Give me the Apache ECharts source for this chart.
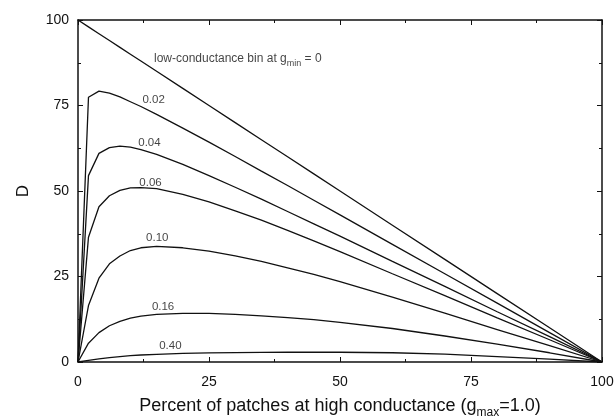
<!DOCTYPE html>
<html>
<head>
<meta charset="utf-8">
<script src="https://cdn.jsdelivr.net/npm/echarts@6/dist/echarts.min.js"></script>
<style>
  html, body { margin: 0; padding: 0; background: #fff; }
  #chart { width: 615px; height: 416px; }
</style>
</head>
<body>
<div id="chart"></div>
<script>
// Percent of patches at high conductance (x positions shared by every curve)
var pct = [0, 2, 4, 6, 8, 10, 12, 15, 20, 25, 30, 35, 40, 45, 50, 60, 70, 80, 90, 100];

// D for each low-conductance bin value g_min
var gmin = ['0', '0.02', '0.04', '0.06', '0.10', '0.16', '0.40'];
var d000 = [100, 98, 96, 94, 92, 90, 88, 85, 80, 75, 70, 65, 60, 55, 50, 40, 30, 20, 10, 0];
var d002 = [0, 77.4, 79.2, 78.6, 77.5, 76.1, 74.7, 72.4, 68.4, 64.3, 60.1, 55.8, 51.6, 47.3, 43.0, 34.4, 25.8, 17.2, 8.6, 0];
var d004 = [0, 54.5, 61.0, 62.7, 63.1, 62.8, 62.1, 60.7, 57.8, 54.5, 51.1, 47.6, 44.0, 40.4, 36.8, 29.4, 22.1, 14.7, 7.4, 0];
var d006 = [0, 36.5, 45.4, 48.6, 50.2, 50.9, 51.0, 50.7, 49.0, 46.8, 44.2, 41.5, 38.5, 35.4, 32.3, 25.8, 19.4, 12.9, 6.5, 0];
var d010 = [0, 16.5, 24.5, 28.7, 31.0, 32.6, 33.4, 33.8, 33.4, 32.4, 31.0, 29.4, 27.5, 25.6, 23.5, 19.0, 14.3, 9.5, 4.8, 0];
var d016 = [0, 5.5, 8.6, 10.6, 11.9, 12.8, 13.4, 13.9, 14.2, 14.2, 13.9, 13.5, 13.0, 12.4, 11.6, 9.8, 7.6, 5.2, 2.7, 0];
var d040 = [0, 0.5, 0.9, 1.3, 1.6, 1.85, 2.05, 2.25, 2.5, 2.65, 2.75, 2.8, 2.85, 2.85, 2.85, 2.7, 2.3, 1.6, 0.85, 0];
var curves = [d000, d002, d004, d006, d010, d016, d040];

// Curve captions (text and the data point where each caption starts)
var captions = [
  '{t|low-conductance bin at g}{s|min}{t| = 0}',
  '0.02', '0.04', '0.06', '0.10', '0.16', '0.40'
];
var captionAt = [[14.5, 88.0], [12.3, 76.6], [11.5, 64.2], [11.7, 52.5], [13.0, 36.2], [14.1, 16.0], [15.5, 4.8]];

var FONT = 'Liberation Sans, Arial, sans-serif';

function zip(xs, ys) {
  return xs.map(function (x, i) { return [x, ys[i]]; });
}

var series = curves.map(function (ys, i) {
  return {
    name: 'g_min = ' + gmin[i],
    type: 'line',
    xAxisIndex: 0,
    yAxisIndex: 0,
    data: zip(pct, ys),
    showSymbol: false,
    smooth: false,
    lineStyle: { color: '#111', width: 1.3 },
    silent: true,
    z: 3
  };
});

series.push({
  type: 'scatter',
  xAxisIndex: 0,
  yAxisIndex: 0,
  symbolSize: 0,
  silent: true,
  data: captionAt.map(function (p, i) { return { value: p, name: captions[i] }; }),
  label: {
    show: true,
    position: 'right',
    distance: 0,
    formatter: function (p) { return p.name; },
    color: '#111',
    fontFamily: FONT,
    fontSize: 11.5,
    rich: {
      t: { fontSize: 12, fontFamily: FONT, color: '#111', lineHeight: 14, verticalAlign: 'bottom', padding: [0, 0, 3, 0] },
      s: { fontSize: 9, fontFamily: FONT, color: '#111', lineHeight: 9, verticalAlign: 'bottom', padding: [6, 0, 0, 0] }
    }
  },
  z: 4
});

function frameAxis(extra) {
  var base = {
    type: 'value',
    min: 0,
    max: 100,
    interval: 25,
    axisLine: { show: true, onZero: false, lineStyle: { color: '#111', width: 1.5 } },
    axisTick: { show: true, inside: true, length: 5, lineStyle: { color: '#111', width: 1 } },
    minorTick: { show: true, splitNumber: 2, length: 3, lineStyle: { color: '#111', width: 1 } },
    splitLine: { show: false },
    axisLabel: { show: false }
  };
  for (var k in extra) base[k] = extra[k];
  return base;
}

var chart = echarts.init(document.getElementById('chart'), null, { renderer: 'canvas' });
chart.setOption({
  animation: false,
  backgroundColor: '#fff',
  grid: { left: 78, right: 13, top: 20, bottom: 54, containLabel: false, outerBoundsMode: 'none' },
  xAxis: [
    frameAxis({
      position: 'bottom',
      axisLabel: { show: true, color: '#111', fontSize: 14, fontFamily: FONT, margin: 13 },
      name: '{t|Percent of patches at high conductance (g}{s|max}{t|=1.0)}',
      nameLocation: 'middle',
      nameGap: 37,
      nameTextStyle: {
        rich: {
          t: { fontSize: 18, fontFamily: FONT, color: '#111', lineHeight: 20, verticalAlign: 'bottom', padding: [0, 0, 4, 0] },
          s: { fontSize: 12, fontFamily: FONT, color: '#111', lineHeight: 12, verticalAlign: 'bottom', padding: [8, 0, 0, 0] }
        }
      }
    }),
    frameAxis({ position: 'top' })
  ],
  yAxis: [
    frameAxis({
      position: 'left',
      axisLabel: { show: true, color: '#111', fontSize: 14, fontFamily: FONT, margin: 9 },
      name: 'D',
      nameLocation: 'middle',
      nameGap: 46,
      nameRotate: 90,
      nameTextStyle: { fontSize: 17, fontFamily: FONT, color: '#111' }
    }),
    frameAxis({ position: 'right' })
  ],
  series: series
});
</script>
</body>
</html>
